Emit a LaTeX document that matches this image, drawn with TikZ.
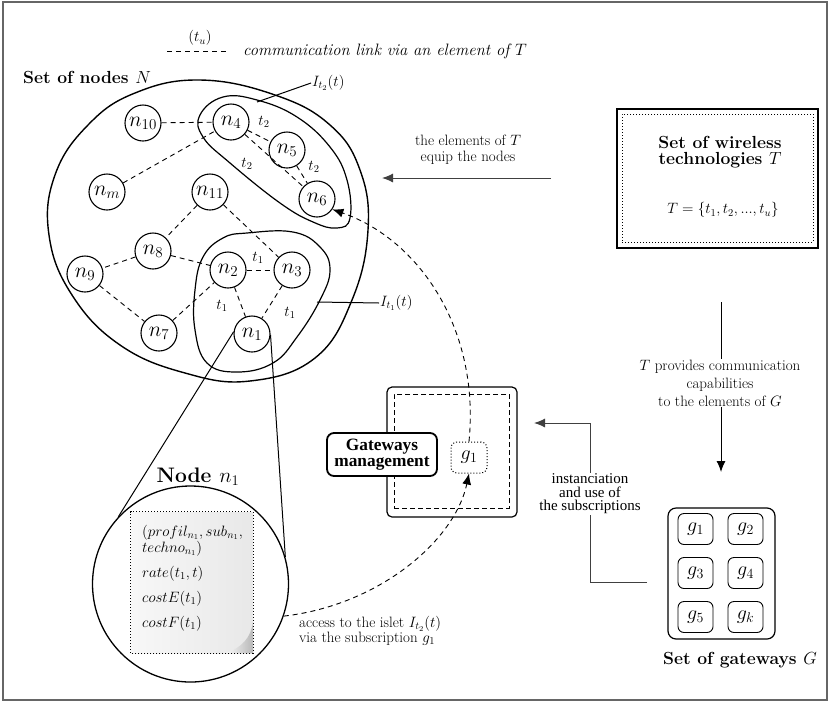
\RequirePackage{fix-cm}
\documentclass[tikz,border=0pt]{standalone}
\usepackage{fontspec}
\newfontfamily\timesfont{Liberation Serif}
\usetikzlibrary{arrows.meta,shadings}
\newcommand{\myfs}[2]{\fontsize{#1}{#2}\selectfont}
\begin{document}
\begin{tikzpicture}[x=1pt,y=-1pt,
  nd/.style={circle,draw,line width=1.1pt,minimum size=36pt,inner sep=0pt,font=\myfs{21.5}{24}},
  lnk/.style={dash pattern=on 5pt off 4pt,line width=0.9pt},
  lbl/.style={font=\myfs{15}{18},inner sep=1pt},
  gbox/.style={draw,rounded corners=6pt,minimum width=35pt,minimum height=31pt,inner sep=0pt,line width=0.9pt,font=\myfs{20}{24}},
  arr/.style={-{Latex[length=11pt,width=9pt]},line width=1pt},
  ptxt/.style={anchor=base west,inner sep=0pt,font=\myfs{15}{18}},
]
\useasboundingbox (0,0) rectangle (829,702);
\draw[black!60,line width=2pt] (3,2) rectangle (827,700);

% legend
\coordinate (la) at (167,51);
\coordinate (lb) at (229,51);
\draw[lnk] (la) -- (lb);
\node[lbl] (ltu) at (200,38) {$(t_u)$};
\node[font=\itshape\myfs{16.5}{20},anchor=base west,inner sep=0pt] (ltxt) at (243,55) {communication link via an element of $T$};

% set of nodes
\node[font=\bfseries\myfs{17.5}{20}] (setn) at (87,77) {Set of nodes $N$};
\draw[line width=1.4pt] plot[smooth cycle,tension=0.7] coordinates {(200,80) (275,95) (330,125) (360,170) (368,230) (352,300) (315,358) (250,381) (185,373) (120,345) (72,295) (49,235) (55,175) (88,125) (135,93)};

% islands
\draw[line width=1.2pt] plot[smooth cycle,tension=0.7] coordinates {(223,97) (257,100) (297,117) (330,147) (347,180) (350,218) (337,228) (313,222) (280,203) (230,163) (203,137) (200,115)};
\draw[line width=1.2pt] plot[smooth cycle,tension=0.7] coordinates {(247,233) (293,232) (320,247) (330,270) (320,300) (297,337) (273,363) (237,372) (207,363) (195,330) (195,290) (203,257) (223,238)};

% nodes
\node[nd] (n10) at (143,123) {$n_{10}$};
\node[nd] (n4) at (231,122) {$n_4$};
\node[nd] (n5) at (287,150) {$n_5$};
\node[nd] (n6) at (317,199) {$n_6$};
\node[nd] (nm) at (107,192) {$n_m$};
\node[nd] (n11) at (210,192) {$n_{11}$};
\node[nd] (n8) at (153,251) {$n_8$};
\node[nd] (n9) at (85,274) {$n_9$};
\node[nd] (n2) at (228,270) {$n_2$};
\node[nd] (n3) at (292,270) {$n_3$};
\node[nd] (n7) at (159,333) {$n_7$};
\node[nd] (n1) at (252,334) {$n_1$};

% links
\draw[lnk] (n10) -- (n4);
\draw[lnk] (n4) -- (n5);
\draw[lnk] (n5) -- (n6);
\draw[lnk] (n4) -- (n6);
\draw[lnk] (nm) -- (n4);
\draw[lnk] (n11) -- (n8);
\draw[lnk] (n11) -- (n3);
\draw[lnk] (n8) -- (n9);
\draw[lnk] (n8) -- (n2);
\draw[lnk] (n9) -- (n7);
\draw[lnk] (n7) -- (n2);
\draw[lnk] (n2) -- (n3);
\draw[lnk] (n2) -- (n1);
\draw[lnk] (n3) -- (n1);
\node[lbl] (e45) at (264,122) {$t_2$};
\node[lbl] (e56) at (314,167) {$t_2$};
\node[lbl] (e46) at (247,164) {$t_2$};
\node[lbl] (e23) at (258,258) {$t_1$};
\node[lbl] (e21) at (222,306) {$t_1$};
\node[lbl] (e31) at (290,313) {$t_1$};

% island labels
\node[lbl,anchor=west] (it2) at (311,83) {$I_{t_2}(t)$};
\node[lbl,anchor=west] (it1) at (379,303) {$I_{t_1}(t)$};
\coordinate (i2a) at (257,102);
\coordinate (i1a) at (317,302);
\draw[line width=1pt] (i2a) -- (it2.west);
\draw[line width=1pt] (i1a) -- (it1.west);

% technologies box
\node[draw,line width=1.3pt,minimum width=201pt,minimum height=139pt] (tbox) at (717.5,178.5) {};
\node[draw,dotted,line width=1pt,minimum width=191pt,minimum height=128pt] (tin) at (717.5,178) {};
\node[font=\bfseries\myfs{17.5}{16.5},align=center] (ttl) at (720,152) {Set of wireless\\technologies $T$};
\node[lbl] (tset) at (723,210) {$T=\{t_1,t_2,...,t_u\}$};

% arrow elements of T
\coordinate (ea) at (551,178);
\coordinate (eb) at (382,178);
\draw[arr,black!75] (ea) -- (eb);
\node[lbl,align=center,font=\myfs{15}{16}] (elab) at (468,150) {the elements of $T$\\equip the nodes};

% vertical arrow
\coordinate (va) at (721,302);
\coordinate (vb) at (721,472);
\draw[arr] (va) -- (vb);
\node[lbl,align=center,fill=white,font=\myfs{15}{18}] (vlab) at (720,383) {$T$ provides communication\\capabilities\\to the elements of $G$};

% gateways management
\node[draw,rounded corners=5pt,line width=1.2pt,minimum size=130pt] (gm) at (452,452) {};
\node[draw,dash pattern=on 5pt off 3pt,line width=1pt,minimum width=115pt,minimum height=114pt] (gmi) at (451.5,451) {};
\node[draw,rounded corners=7pt,line width=1.8pt,fill=white,minimum width=110pt,minimum height=43pt,inner sep=0pt,font=\timesfont\bfseries\myfs{17.3}{16},align=center] (gml) at (382,454.5) {Gateways\\management};
\node[draw,dotted,rounded corners=6pt,minimum width=36pt,minimum height=31pt,inner sep=0pt,line width=1pt,font=\myfs{20}{24}] (gg1) at (469,457.5) {$g_1$};

% elbow arrow
\coordinate (ia) at (647,582);
\coordinate (ic) at (590,423);
\coordinate (ib) at (534,423);
\draw[arr,black!75] (ia) -| (ic) -- (ib);
\node[fill=white,inner sep=1pt,align=center,font=\timesfont\myfs{15}{13.5}] (ilab) at (590,494) {instanciation\\and use of\\the subscriptions};

% set of gateways
\node[draw,rounded corners=8pt,line width=1.2pt,minimum width=107pt,minimum height=131pt] (gs) at (721.5,573.5) {};
\node[gbox] (ga1) at (695.5,529) {$g_1$};
\node[gbox] (ga2) at (745.5,529) {$g_2$};
\node[gbox] (ga3) at (695.5,573) {$g_3$};
\node[gbox] (ga4) at (745.5,573) {$g_4$};
\node[gbox] (ga5) at (695.5,617) {$g_5$};
\node[gbox] (gak) at (745.5,617) {$g_k$};
\node[font=\bfseries\myfs{17.5}{20}] (gsl) at (740,660) {Set of gateways $G$};

% zoom on n1
\node[circle,draw,line width=1.3pt,minimum size=196pt] (n1z) at (190.5,584) {};
\node[font=\bfseries\myfs{21}{24},anchor=base] (n1t) at (198,482) {Node $n_1$};
\draw[line width=1pt] (n1.173) -- (n1z.137);
\draw[line width=1pt] (n1.-3) -- (n1z.16);

% paper
\node[minimum width=122pt,minimum height=141pt,left color=black!3,right color=black!9,inner sep=0pt] (paper) at (192,582.5) {};
\shade[left color=black!3,right color=black!28] (226,653) .. controls (241,648) and (251,638) .. (253,622) -- (253,653) -- cycle;
\draw[dotted,line width=1pt] (paper.south west) rectangle (paper.north east);
\node[ptxt] (p1) at (142,536) {$(profil_{n_1},sub_{n_1},$};
\node[ptxt] (p2) at (142,552) {$techno_{n_1})$};
\node[ptxt] (p3) at (142,577) {$rate(t_1,t)$};
\node[ptxt] (p4) at (142,602) {$costE(t_1)$};
\node[ptxt] (p5) at (142,627) {$costF(t_1)$};

% dashed curves
\draw[lnk,-{Latex[length=11pt,width=9pt]}] (gg1.north) .. controls (480,330) and (420,240) .. (n6.-34);
\draw[lnk,-{Latex[length=11pt,width=9pt]}] (n1z.-19) .. controls (380,605) and (455,540) .. (gg1.south);
\node[font=\myfs{15}{15},align=left,anchor=north west,inner sep=0pt] (alab) at (299,616) {access to the islet $I_{t_2}(t)$\\via the subscription $g_1$};
\end{tikzpicture}
\end{document}
